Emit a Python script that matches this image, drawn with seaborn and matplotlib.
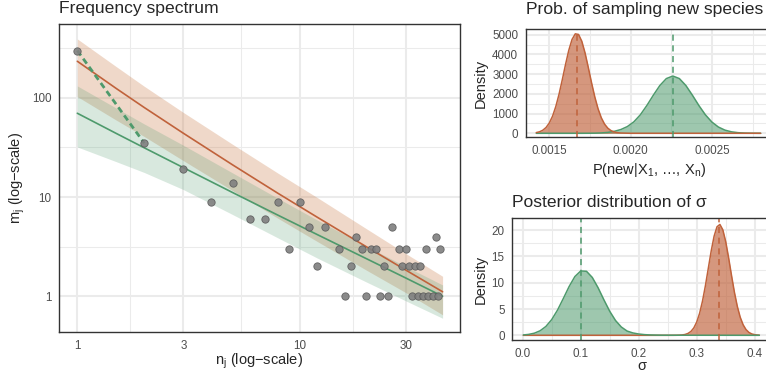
import matplotlib
matplotlib.use("Agg")
import matplotlib.pyplot as plt
import seaborn as sns
from matplotlib.ticker import FixedLocator, NullFormatter, FixedFormatter

sns.set_style("white")
plt.rcParams["font.family"] = ["Liberation Sans", "DejaVu Sans"]
plt.rcParams["mathtext.fontset"] = "custom"
plt.rcParams["mathtext.rm"] = "Liberation Sans"
plt.rcParams["mathtext.it"] = "Liberation Sans:italic"

ORANGE = "#C0623B"
ORANGE_BAND = "#C8753F"
GREEN = "#4E9A6C"

# observed frequency spectrum
n_obs = [1, 2, 3, 4, 5, 6, 7, 8, 9, 10, 11, 12, 13, 15, 16, 17, 18, 19, 20, 21,
         22, 23, 24, 25, 26, 28, 29, 30, 31, 32, 33, 34, 35, 36, 37, 38, 40, 41, 42, 43]
m_obs = [300, 35, 19, 9, 14, 6, 6, 9, 3, 9, 5, 2, 5, 3, 1, 2, 4, 3, 1, 3,
         3, 1, 2, 1, 5, 3, 2, 3, 2, 1, 2, 1, 2, 1, 3, 1, 1, 4, 1, 3]

# fitted curves + credible bands
n_grid = [1, 1.5, 2, 3, 5, 8, 12, 20, 30, 44]
orange_mid = [234, 124, 80, 44, 21.1, 10.9, 6.27, 3.15, 1.84, 1.11]
orange_hi = [393, 206, 131, 71.3, 34, 17.4, 9.9, 4.79, 2.70, 1.59]
orange_lo = [103, 59.5, 40.8, 23.3, 11.6, 6.1, 3.57, 1.83, 1.09, 0.65]
green_mid = [70, 43.7, 31.4, 19.8, 11.1, 6.56, 4.19, 2.39, 1.53, 1.0]
green_hi = [132, 78.7, 54.6, 33.3, 17.5, 9.7, 5.87, 3.2, 2.0, 1.3]
green_lo = [32, 22.7, 17.7, 11.9, 6.66, 3.87, 2.43, 1.39, 0.9, 0.6]

# dashed segment over the first two frequencies
dash_n = [1, 2]
dash_m = [300, 35]

# posterior of P(new | X1..Xn)  (x in units of 1e-5)
pnew_orange_x = [142, 144, 146, 148, 150, 152, 154, 156, 158, 160, 162, 164, 166, 168,
                 170, 172, 174, 176, 178, 180, 182, 184, 186, 188, 190, 192, 194, 200, 280]
pnew_orange_y = [35, 76, 154, 292, 519, 864, 1352, 1978, 2714, 3491, 4209, 4759, 5044, 5012,
                 4667, 4075, 3336, 2561, 1842, 1243, 785, 465, 258, 134, 66, 30, 13, 0, 0]
pnew_green_x = [142, 146, 150, 154, 158, 162, 166, 170, 174, 178, 182, 186, 190, 194, 198,
                202, 206, 210, 214, 218, 222, 226, 230, 234, 238, 242, 246, 250, 254, 258,
                262, 266, 270, 274, 278, 280]
pnew_green_y = [0, 0, 0, 0, 0, 0, 0, 0, 2, 6, 18, 45, 100, 190, 340,
                580, 937, 1408, 1933, 2423, 2775, 2904, 2775, 2423, 1933, 1408, 937, 570, 317, 161,
                75, 32, 12, 4, 1, 0]
pnew_mean_orange = 0.001668
pnew_mean_green = 0.002260

# posterior of sigma
sig_green_x = [0.001, 0.01, 0.02, 0.03, 0.04, 0.05, 0.06, 0.07, 0.08, 0.09, 0.10, 0.11, 0.12,
               0.13, 0.14, 0.15, 0.16, 0.17, 0.18, 0.19, 0.20, 0.21, 0.22, 0.23, 0.24, 0.408]
sig_green_y = [0.07, 0.17, 0.40, 0.86, 1.68, 2.98, 4.78, 6.98, 9.26, 11.17, 12.23, 12.17, 11.0,
               9.04, 6.75, 4.58, 2.82, 1.58, 0.81, 0.45, 0.25, 0.13, 0.07, 0.04, 0.02, 0]
sig_orange_x = [0.001, 0.25, 0.26, 0.265, 0.27, 0.275, 0.28, 0.285, 0.29, 0.295, 0.30, 0.305,
                0.31, 0.315, 0.32, 0.325, 0.33, 0.335, 0.34, 0.345, 0.35, 0.355, 0.36, 0.365,
                0.37, 0.375, 0.38, 0.385, 0.39, 0.395, 0.40, 0.405, 0.408]
sig_orange_y = [0, 0, 0.003, 0.01, 0.03, 0.07, 0.16, 0.36, 0.73, 1.40, 2.51, 4.18,
                6.50, 9.42, 12.73, 16.03, 18.84, 20.63, 21.07, 20.06, 17.81, 14.74, 11.38, 8.19,
                5.50, 3.44, 2.01, 1.09, 0.55, 0.26, 0.12, 0.05, 0.03]
sig_mean_green = 0.100
sig_mean_orange = 0.339

W, H = 766, 377
fig = plt.figure(figsize=(W / 100, H / 100), dpi=100)


def px_axes(l, t, r, b):
    return fig.add_axes([l / W, 1 - b / H, (r - l) / W, (b - t) / H])


def style(ax):
    for s in ax.spines.values():
        s.set_color("#333333")
        s.set_linewidth(1.0)
    ax.tick_params(which="major", color="#333333", length=3.5, width=0.8,
                   labelsize=8.4, labelcolor="#4D4D4D", pad=2)
    ax.tick_params(which="minor", length=0)
    ax.grid(which="major", color="#EBEBEB", lw=1.5)
    ax.grid(which="minor", color="#EBEBEB", lw=0.75)
    ax.set_axisbelow(True)
    ax.set_xlabel("")
    ax.set_ylabel("")


def label(x, y, s, rot=0, size=10.5):
    fig.text(x / W, 1 - y / H, s, ha="center", va="center", rotation=rot, fontsize=size)


# ---- frequency spectrum
ax = px_axes(59, 24, 460, 332)
ax.set_xscale("log")
ax.set_yscale("log")
ax.fill_between(n_grid, orange_lo, orange_hi, color=ORANGE_BAND, alpha=0.28, lw=0)
ax.fill_between(n_grid, green_lo, green_hi, color=GREEN, alpha=0.22, lw=0)
sns.lineplot(x=n_grid, y=orange_mid, color=ORANGE, lw=1.2, ax=ax)
sns.lineplot(x=n_grid, y=green_mid, color=GREEN, lw=1.2, ax=ax)
sns.scatterplot(x=n_obs, y=m_obs, color="#7F7F7F", edgecolor="#5A5A5A", linewidth=0.6,
                s=28, alpha=0.9, ax=ax, zorder=4)
ax.plot(dash_n, dash_m, color=GREEN, lw=2.0, ls=(0, (2.2, 1.4)), zorder=3)
ax.set_xlim(0.827, 52.7)
ax.set_ylim(0.436, 556)
ax.xaxis.set_major_locator(FixedLocator([1, 3, 10, 30]))
ax.xaxis.set_major_formatter(FixedFormatter(["1", "3", "10", "30"]))
ax.xaxis.set_minor_locator(FixedLocator([1.732, 5.477, 17.32]))
ax.xaxis.set_minor_formatter(NullFormatter())
ax.yaxis.set_major_locator(FixedLocator([1, 10, 100]))
ax.yaxis.set_major_formatter(FixedFormatter(["1", "10", "100"]))
ax.yaxis.set_minor_locator(FixedLocator([3.162, 31.62, 316.2]))
ax.yaxis.set_minor_formatter(NullFormatter())
style(ax)
ax.set_title("Frequency spectrum", loc="left", fontsize=12.6, pad=7.8)
label(259.5, 361, r"n$_\mathrm{j}$ (log−scale)")
label(17, 178, r"m$_\mathrm{j}$ (log−scale)", rot=90)

# ---- probability of new species
ax2 = px_axes(525.7, 29, 772, 137)
x_o = [v * 1e-5 for v in pnew_orange_x]
x_g = [v * 1e-5 for v in pnew_green_x]
ax2.fill_between(x_g, 0, pnew_green_y, color=GREEN, alpha=0.55, lw=0)
ax2.fill_between(x_o, 0, pnew_orange_y, color=ORANGE, alpha=0.66, lw=0)
sns.lineplot(x=x_g, y=pnew_green_y, color=GREEN, lw=1.1, ax=ax2)
sns.lineplot(x=x_o, y=pnew_orange_y, color=ORANGE, lw=1.1, ax=ax2)
ax2.axvline(pnew_mean_orange, color=ORANGE, lw=1.1, ls=(0, (4, 3)))
ax2.axvline(pnew_mean_green, color=GREEN, lw=1.1, ls=(0, (4, 3)))
ax2.set_xlim(0.001355, 0.0028696)
ax2.set_ylim(-188, 5289)
ax2.xaxis.set_major_locator(FixedLocator([0.0015, 0.0020, 0.0025]))
ax2.xaxis.set_major_formatter(FixedFormatter(["0.0015", "0.0020", "0.0025"]))
ax2.xaxis.set_minor_locator(FixedLocator([0.00125, 0.00175, 0.00225, 0.00275]))
ax2.yaxis.set_major_locator(FixedLocator([0, 1000, 2000, 3000, 4000, 5000]))
ax2.yaxis.set_major_formatter(FixedFormatter(["0", "1000", "2000", "3000", "4000", "5000"]))
ax2.yaxis.set_minor_locator(FixedLocator([500, 1500, 2500, 3500, 4500]))
style(ax2)
ax2.set_title("Prob. of sampling new species", loc="left", fontsize=12.6, pad=10.5)
label(649, 170, r"P(new|X$_1$, …, X$_\mathrm{n}$)")
label(481, 83, "Density", rot=90)

# ---- posterior of sigma
ax3 = px_axes(512.3, 218.3, 772, 340)
ax3.fill_between(sig_green_x, 0, sig_green_y, color=GREEN, alpha=0.55, lw=0)
ax3.fill_between(sig_orange_x, 0, sig_orange_y, color=ORANGE, alpha=0.66, lw=0)
sns.lineplot(x=sig_orange_x, y=sig_orange_y, color=ORANGE, lw=1.1, ax=ax3)
sns.lineplot(x=sig_green_x, y=sig_green_y, color=GREEN, lw=1.1, ax=ax3)
ax3.axvline(sig_mean_green, color=GREEN, lw=1.1, ls=(0, (4, 3)))
ax3.axvline(sig_mean_orange, color=ORANGE, lw=1.1, ls=(0, (4, 3)))
ax3.set_xlim(-0.0179, 0.4298)
ax3.set_ylim(-0.89, 22.24)
ax3.xaxis.set_major_locator(FixedLocator([0.0, 0.1, 0.2, 0.3, 0.4]))
ax3.xaxis.set_major_formatter(FixedFormatter(["0.0", "0.1", "0.2", "0.3", "0.4"]))
ax3.xaxis.set_minor_locator(FixedLocator([0.05, 0.15, 0.25, 0.35]))
ax3.yaxis.set_major_locator(FixedLocator([0, 5, 10, 15, 20]))
ax3.yaxis.set_major_formatter(FixedFormatter(["0", "5", "10", "15", "20"]))
ax3.yaxis.set_minor_locator(FixedLocator([2.5, 7.5, 12.5, 17.5]))
style(ax3)
ax3.set_title("Posterior distribution of σ", loc="left", fontsize=12.6, pad=8.2)
label(642, 366, "σ")
label(481, 279, "Density", rot=90)

fig.savefig("out.png", dpi=100)
